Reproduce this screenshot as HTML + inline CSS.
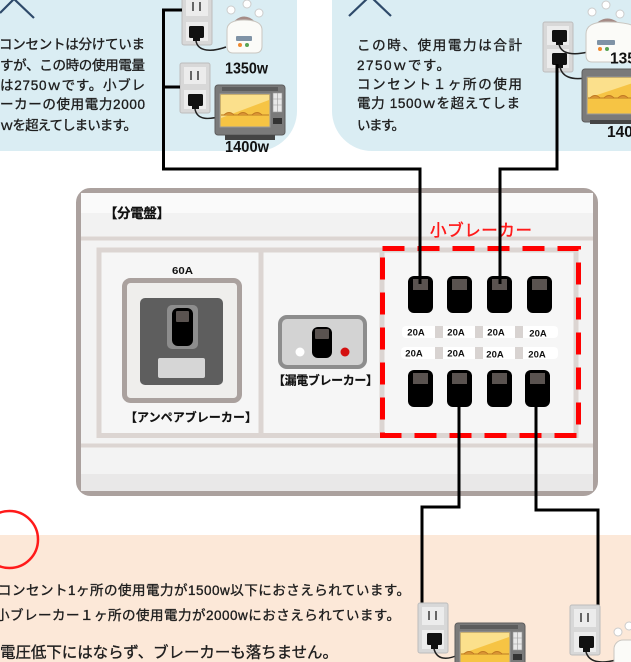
<!DOCTYPE html>
<html><head><meta charset="utf-8">
<style>
html,body{margin:0;padding:0;background:#fff;}
svg{display:block;}
text{font-family:"Liberation Sans","Noto Sans CJK JP",sans-serif;}
</style></head><body>
<svg width="631" height="662" viewBox="0 0 631 662" xmlns="http://www.w3.org/2000/svg">
<!-- backgrounds -->
<rect x="-60" y="-60" width="357" height="211" rx="40" fill="#daedf3"/>
<rect x="332" y="-60" width="360" height="211" rx="40" fill="#daedf3"/>
<rect x="0" y="535" width="631" height="127" fill="#fce8d8"/>

<!-- chevrons -->
<polyline points="0,13 14,-1 34,18" stroke="#2e4a6a" stroke-width="2.2" fill="none"/>
<polyline points="349,16 370,-4 391,16" stroke="#2e4a6a" stroke-width="2.2" fill="none"/>

<!-- top-left text -->
<g fill="#1e1e1e" stroke="#1e1e1e" stroke-width="0.35" font-size="13.5">
<text x="-1" y="49" textLength="146" lengthAdjust="spacing">コンセントは分けていま</text>
<text x="0" y="70" textLength="145" lengthAdjust="spacing">すが、この時の使用電量</text>
<text x="0" y="90" textLength="145" lengthAdjust="spacing">は2750ｗです。小ブレ</text>
<text x="0" y="109" textLength="145" lengthAdjust="spacing">ーカーの使用電力2000</text>
<text x="0" y="130" textLength="137" lengthAdjust="spacing">ｗを超えてしまいます。</text>
</g>
<!-- top-right text -->
<g fill="#1e1e1e" stroke="#1e1e1e" stroke-width="0.35" font-size="13.5">
<text x="357" y="50" textLength="165" lengthAdjust="spacing">この時、使用電力は合計</text>
<text x="357" y="70" textLength="93" lengthAdjust="spacing">2750ｗです。</text>
<text x="357" y="89" textLength="165" lengthAdjust="spacing">コンセント１ヶ所の使用</text>
<text x="357" y="108" textLength="163" lengthAdjust="spacing">電力 1500ｗを超えてしま</text>
<text x="357" y="130" textLength="48" lengthAdjust="spacing">います。</text>
</g>

<!-- ===== top-left appliances ===== -->
<!-- outlet 1 -->
<rect x="182" y="-6" width="30" height="51" rx="2" fill="#d8d8d8" stroke="#bdbdbd"/>
<rect x="186" y="-2" width="22" height="18" fill="#ececec"/>
<line x1="193" y1="2" x2="193" y2="11" stroke="#666" stroke-width="2"/>
<line x1="200" y1="2" x2="200" y2="11" stroke="#666" stroke-width="2"/>
<rect x="186" y="22" width="22" height="19" fill="#ececec"/>
<rect x="189" y="26" width="15" height="12" rx="1.5" fill="#111"/>
<rect x="193" y="37" width="7" height="4" fill="#111"/>
<path d="M196,41 C198,52 212,52 226,47" stroke="#222" stroke-width="1.5" fill="none"/>
<!-- rice cooker 1 -->
<circle cx="231" cy="10" r="4" fill="#fff" stroke="#ccc"/>
<circle cx="247" cy="4" r="4" fill="#fff" stroke="#ccc"/>
<circle cx="259" cy="13" r="4" fill="#fff" stroke="#ccc"/>
<path d="M232,26 Q244,10 257,26" stroke="#a58b86" stroke-width="3" fill="none"/>
<path d="M227,30 Q227,20 244,20 Q262,20 262,30 L262,46 Q262,53 255,53 L233,53 Q227,53 227,46 Z" fill="#fbfbf8" stroke="#c9c6c0"/>
<rect x="236" y="36" width="16" height="5" rx="1" fill="#7f93a6"/>
<circle cx="240" cy="45" r="2" fill="#f08a30"/>
<circle cx="247" cy="45" r="2" fill="#5aa454"/>
<text x="225" y="73.5" font-size="15.5" font-weight="bold" fill="#111" textLength="43" lengthAdjust="spacingAndGlyphs">1350w</text>
<!-- outlet 2 -->
<rect x="180" y="63" width="30" height="50" rx="2" fill="#d8d8d8" stroke="#bdbdbd"/>
<rect x="184" y="67" width="22" height="17" fill="#ececec"/>
<line x1="191" y1="71" x2="191" y2="80" stroke="#666" stroke-width="2"/>
<line x1="198" y1="71" x2="198" y2="80" stroke="#666" stroke-width="2"/>
<rect x="184" y="90" width="22" height="19" fill="#ececec"/>
<rect x="188" y="94" width="15" height="12" rx="1.5" fill="#111"/>
<rect x="192" y="105" width="7" height="4" fill="#111"/>
<path d="M195,109 C197,120 208,120 222,116" stroke="#222" stroke-width="1.5" fill="none"/>
<!-- oven 1 -->
<rect x="215" y="85" width="70" height="50" rx="3" fill="#7a7a7a" stroke="#5d5d5d"/>
<rect x="222" y="87" width="56" height="4" fill="#5c5c5c"/>
<rect x="220" y="94" width="50" height="33" fill="#f6c444" stroke="#9a9a9a"/>
<polygon points="221,95 269,95 269,100 221,118" fill="#fbe08c"/>
<line x1="221" y1="115" x2="269" y2="115" stroke="#c78a2a" stroke-width="1.2"/>
<path d="M224,115 q5,-5 10,0 M238,115 q5,-5 10,0 M252,115 q5,-5 10,0" fill="#d99434" stroke="#c07a22"/>
<rect x="273" y="93" width="9" height="19" fill="#e8e8e8" stroke="#999" stroke-width="0.6"/>
<path d="M273,99 H282 M273,105 H282 M277.5,93 V112" stroke="#999" stroke-width="0.6"/>
<rect x="273" y="118" width="9" height="6" fill="#333"/>
<rect x="225" y="135" width="50" height="5" fill="#444"/>
<text x="225" y="152" font-size="15.5" font-weight="bold" fill="#111" textLength="44" lengthAdjust="spacingAndGlyphs">1400w</text>

<!-- ===== top-right appliances ===== -->
<rect x="543" y="22" width="30" height="50" rx="2" fill="#d8d8d8" stroke="#bdbdbd"/>
<rect x="547" y="26" width="22" height="19" fill="#ececec"/>
<rect x="547" y="49" width="22" height="19" fill="#ececec"/>
<rect x="552" y="30" width="15" height="12" rx="1.5" fill="#111"/>
<rect x="556" y="41" width="7" height="4" fill="#111"/>
<rect x="552" y="53" width="15" height="12" rx="1.5" fill="#111"/>
<rect x="556" y="64" width="7" height="4" fill="#111"/>
<path d="M559,44 C561,55 575,55 588,52" stroke="#222" stroke-width="1.5" fill="none"/>
<path d="M560,67 C562,77 572,80 585,78" stroke="#222" stroke-width="1.5" fill="none"/>
<circle cx="592" cy="12" r="4" fill="#fff" stroke="#ccc"/>
<circle cx="606" cy="5" r="4" fill="#fff" stroke="#ccc"/>
<circle cx="620" cy="14" r="4" fill="#fff" stroke="#ccc"/>
<path d="M594,28 Q607,12 622,28" stroke="#a58b86" stroke-width="3" fill="none"/>
<path d="M586,34 Q586,22 606,22 Q640,22 640,34 L640,62 L592,62 Q586,62 586,55 Z" fill="#fbfbf8" stroke="#c9c6c0"/>
<rect x="597" y="40" width="18" height="5" rx="1" fill="#7f93a6"/>
<circle cx="600" cy="49" r="2" fill="#f08a30"/>
<circle cx="607" cy="49" r="2" fill="#5aa454"/>
<rect x="582" y="69" width="60" height="53" rx="3" fill="#7a7a7a" stroke="#5d5d5d"/>
<rect x="587" y="77" width="50" height="37" fill="#f6c444" stroke="#9a9a9a"/>
<polygon points="588,78 636,78 636,82 588,98" fill="#fbe08c"/>
<line x1="588" y1="98" x2="636" y2="98" stroke="#c78a2a" stroke-width="1.2"/>
<path d="M590,98 q5,-5 10,0 M604,98 q5,-5 10,0 M618,98 q5,-5 10,0" fill="#d99434" stroke="#c07a22"/>
<rect x="590" y="120" width="45" height="4" fill="#444"/>
<text x="610" y="63.5" font-size="15.5" font-weight="bold" fill="#111">1350w</text>
<text x="607" y="137" font-size="15.5" font-weight="bold" fill="#111">1400w</text>

<!-- ===== distribution board ===== -->
<rect x="78.5" y="190.5" width="517" height="303" rx="12" fill="#f3f3f3" stroke="#aba19e" stroke-width="5"/>
<rect x="81" y="193" width="512" height="20" fill="#fafafa"/>
<rect x="81" y="213" width="512" height="23" fill="#f2f2f2"/>
<line x1="81" y1="238.5" x2="593" y2="238.5" stroke="#dcd5d2" stroke-width="4"/>
<rect x="81" y="474" width="512" height="17" fill="#e9e8e8"/>
<line x1="81" y1="445.5" x2="593" y2="445.5" stroke="#dcd5d2" stroke-width="4"/>
<rect x="99" y="250" width="477" height="185.5" fill="#f6f6f6" stroke="#dcd5d2" stroke-width="5"/>
<line x1="261" y1="250" x2="261" y2="435" stroke="#dcd5d2" stroke-width="5"/>
<line x1="382" y1="250" x2="382" y2="435" stroke="#dcd5d2" stroke-width="5"/>
<text x="104" y="218" font-size="13.5" font-weight="bold" fill="#111" stroke="#111" stroke-width="0.2" textLength="66" lengthAdjust="spacing">【分電盤】</text>

<!-- ampere breaker -->
<text x="172" y="274" font-size="10" font-weight="bold" fill="#111" textLength="21" lengthAdjust="spacingAndGlyphs">60A</text>
<rect x="124.5" y="280.5" width="115" height="120" rx="6" fill="#efeeec" stroke="#aaa19e" stroke-width="5"/>
<rect x="140" y="298" width="83" height="87" rx="5" fill="#5e5e5e"/>
<rect x="167" y="305" width="31" height="44" rx="5" fill="#8d8d8d"/>
<rect x="172" y="308" width="21" height="38" rx="6" fill="#000"/>
<rect x="176" y="311" width="13" height="11" rx="1" fill="#5a5350"/>
<rect x="158" y="358" width="47" height="20" rx="2" fill="#d6d6d6"/>
<text x="125" y="421.5" font-size="12" font-weight="bold" fill="#111" stroke="#111" stroke-width="0.15" textLength="132" lengthAdjust="spacing">【アンペアブレーカー】</text>

<!-- leakage breaker -->
<rect x="280" y="317" width="85" height="50" rx="7" fill="#d3d3d3" stroke="#8d8d8d" stroke-width="4"/>
<rect x="312" y="327" width="20" height="31" rx="6" fill="#000"/>
<rect x="315" y="329" width="14" height="10" rx="1" fill="#5a5350"/>
<circle cx="300" cy="352" r="4.5" fill="#fff"/>
<circle cx="345" cy="352" r="4.5" fill="#d41010"/>
<text x="273" y="384.5" font-size="12" font-weight="bold" fill="#111" stroke="#111" stroke-width="0.15" textLength="105" lengthAdjust="spacing">【漏電ブレーカー】</text>

<!-- small breakers -->
<text x="430" y="236" font-size="16.5" fill="#ff1a1a" stroke="#ff1a1a" stroke-width="0.45" textLength="102" lengthAdjust="spacing">小ブレーカー</text>
<g fill="#000">
<rect x="408" y="276" width="25" height="37" rx="6"/>
<rect x="447" y="276" width="25" height="37" rx="6"/>
<rect x="487" y="276" width="25" height="37" rx="6"/>
<rect x="527" y="276" width="25" height="37" rx="6"/>
<rect x="408" y="370" width="25" height="37" rx="6"/>
<rect x="447" y="370" width="25" height="37" rx="6"/>
<rect x="487" y="370" width="25" height="37" rx="6"/>
<rect x="525" y="370" width="25" height="37" rx="6"/>
</g>
<g fill="#5a5350">
<rect x="413" y="279" width="15" height="11"/>
<rect x="452" y="279" width="15" height="11"/>
<rect x="492" y="279" width="15" height="11"/>
<rect x="532" y="279" width="15" height="11"/>
<rect x="413" y="373" width="15" height="11"/>
<rect x="452" y="373" width="15" height="11"/>
<rect x="492" y="373" width="15" height="11"/>
<rect x="530" y="373" width="15" height="11"/>
</g>
<rect x="402" y="326" width="156" height="12" rx="4" fill="#fff"/>
<rect x="401" y="347" width="157" height="12" rx="4" fill="#fff"/>
<g fill="#d8d3d1">
<rect x="435" y="326" width="8" height="12"/><rect x="475" y="326" width="8" height="12"/><rect x="515" y="326" width="8" height="12"/>
<rect x="435" y="347" width="8" height="12"/><rect x="475" y="347" width="8" height="12"/><rect x="515" y="347" width="8" height="12"/>
</g>
<g font-size="9.5" font-weight="bold" fill="#111" text-anchor="middle">
<text x="416" y="335.5">20A</text><text x="456" y="335.5">20A</text><text x="496" y="335.5">20A</text><text x="538" y="336.5">20A</text>
<text x="414" y="356.5">20A</text><text x="456" y="356.5">20A</text><text x="495" y="357.5">20A</text><text x="537" y="357.5">20A</text>
</g>
<rect x="382.5" y="248.5" width="196" height="187" fill="none" stroke="#ff0000" stroke-width="5" stroke-dasharray="22 13"/>

<!-- wires -->
<g stroke="#000" stroke-width="3" fill="none" stroke-linejoin="miter">
<path d="M182,10 H163.5 V169 H420 V284"/>
<path d="M180,87 H163.5"/>
<path d="M557,64 V169 H500 V284"/>
<path d="M459,400 V507 H422 V604"/>
<path d="M536,400 V510 H598 V607"/>
</g>

<!-- red circle -->
<circle cx="9.5" cy="539.5" r="28.5" fill="none" stroke="#ff1a1a" stroke-width="2.5"/>

<!-- bottom text -->
<g fill="#1e1e1e" stroke="#1e1e1e" stroke-width="0.35">
<text x="-2" y="595" font-size="13.5" textLength="412" lengthAdjust="spacing">コンセント1ヶ所の使用電力が1500w以下におさえられています。</text>
<text x="-4" y="620" font-size="13.5" textLength="404" lengthAdjust="spacing">小ブレーカー１ヶ所の使用電力が2000wにおさえられています。</text>
<text x="0" y="657.5" font-size="15.5" textLength="338" lengthAdjust="spacing">電圧低下にはならず、ブレーカーも落ちません。</text>
</g>

<!-- bottom appliances -->
<rect x="418" y="603" width="30" height="50" rx="2" fill="#d8d8d8" stroke="#bdbdbd"/>
<rect x="422" y="607" width="22" height="18" fill="#ececec"/>
<line x1="429" y1="611" x2="429" y2="620" stroke="#666" stroke-width="2"/>
<line x1="436" y1="611" x2="436" y2="620" stroke="#666" stroke-width="2"/>
<rect x="422" y="630" width="22" height="19" fill="#ececec"/>
<rect x="427" y="633" width="15" height="12" rx="1.5" fill="#111"/>
<rect x="431" y="644" width="7" height="5" fill="#111"/>
<path d="M434,649 C437,660 447,660 458,655" stroke="#222" stroke-width="1.5" fill="none"/>
<rect x="455" y="623" width="70" height="45" rx="3" fill="#7a7a7a" stroke="#5d5d5d"/>
<rect x="460" y="625" width="58" height="4" fill="#5c5c5c"/>
<rect x="460" y="632" width="50" height="32" fill="#f6c444" stroke="#9a9a9a"/>
<polygon points="461,633 509,633 509,637 461,654" fill="#fbe08c"/>
<line x1="461" y1="654" x2="509" y2="654" stroke="#c78a2a" stroke-width="1.2"/>
<path d="M464,654 q5,-5 10,0 M478,654 q5,-5 10,0 M492,654 q5,-5 10,0" fill="#d99434" stroke="#c07a22"/>
<rect x="513" y="632" width="9" height="18" fill="#e8e8e8" stroke="#999" stroke-width="0.6"/>
<path d="M513,638 H522 M513,644 H522 M517.5,632 V650" stroke="#999" stroke-width="0.6"/>
<rect x="513" y="654" width="9" height="6" fill="#333"/>

<rect x="570" y="605" width="30" height="50" rx="2" fill="#d8d8d8" stroke="#bdbdbd"/>
<rect x="574" y="609" width="22" height="18" fill="#ececec"/>
<line x1="581" y1="613" x2="581" y2="622" stroke="#666" stroke-width="2"/>
<line x1="588" y1="613" x2="588" y2="622" stroke="#666" stroke-width="2"/>
<rect x="574" y="632" width="22" height="20" fill="#ececec"/>
<rect x="579" y="636" width="15" height="12" rx="1.5" fill="#111"/>
<rect x="583" y="647" width="7" height="5" fill="#111"/>
<path d="M586,652 C589,662 600,664 616,660" stroke="#222" stroke-width="1.5" fill="none"/>
<circle cx="618" cy="632" r="4" fill="#fff" stroke="#ccc"/>
<circle cx="629" cy="626" r="4" fill="#fff" stroke="#ccc"/>
<rect x="614" y="640" width="30" height="30" rx="9" fill="#fbfbf8" stroke="#c9c6c0"/>
</svg>
</body></html>
